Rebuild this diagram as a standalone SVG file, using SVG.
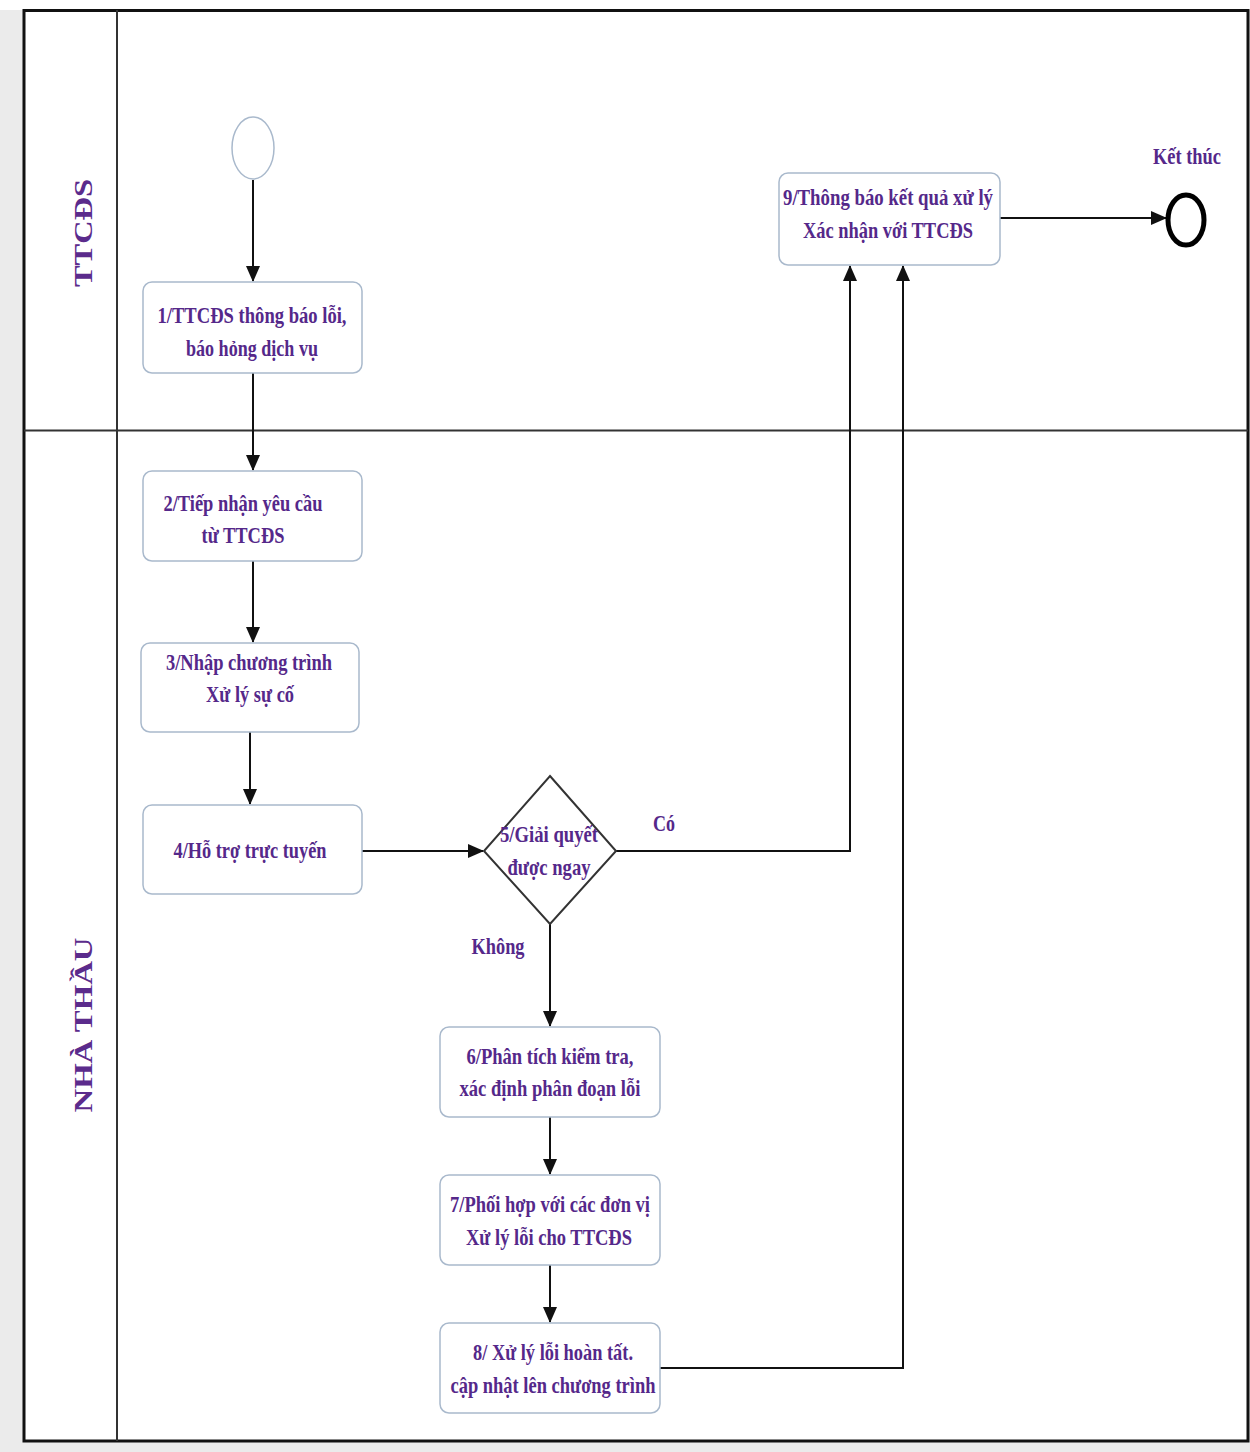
<svg xmlns="http://www.w3.org/2000/svg" width="1250" height="1452" viewBox="0 0 1250 1452">
<style>
.lbl{font-family:"Liberation Serif","Times New Roman",serif;font-weight:bold;font-size:23px;fill:#55288a;text-anchor:middle}
.lane{font-family:"Liberation Serif","Times New Roman",serif;font-weight:bold;font-size:26px;fill:#5b2b8c;text-anchor:middle}
.box{fill:#ffffff;stroke:#a9b9cc;stroke-width:1.5}
.conn{fill:none;stroke:#111111;stroke-width:2}
</style>
<defs>
<marker id="arr" markerWidth="16" markerHeight="14" refX="15" refY="7" orient="auto" markerUnits="userSpaceOnUse">
<path d="M0,0 L16,7 L0,14 Z" fill="#111111"/>
</marker>
</defs>
<rect x="0" y="0" width="1250" height="1452" fill="#ebebeb"/>
<rect x="0" y="0" width="1250" height="10" fill="#ffffff"/>
<rect x="24" y="10" width="1224" height="1431" fill="#ffffff"/>
<g id="pool">
<rect x="24" y="10.5" width="1224" height="1430.5" fill="none" stroke="#111111" stroke-width="3"/>
<line x1="117" y1="10" x2="117" y2="1441" stroke="#333333" stroke-width="2"/>
<line x1="24" y1="430.5" x2="1248" y2="430.5" stroke="#333333" stroke-width="2"/>
<text class="lane" transform="translate(92,233) rotate(-90)" textLength="108" lengthAdjust="spacingAndGlyphs">TTCĐS</text>
<text class="lane" transform="translate(92,1025) rotate(-90)" textLength="175" lengthAdjust="spacingAndGlyphs">NHÀ THẦU</text>
</g>
<g id="connectors">
<line class="conn" x1="253" y1="180" x2="253" y2="281" marker-end="url(#arr)"/>
<line class="conn" x1="253" y1="373" x2="253" y2="470" marker-end="url(#arr)"/>
<line class="conn" x1="253" y1="561" x2="253" y2="642" marker-end="url(#arr)"/>
<line class="conn" x1="250" y1="732" x2="250" y2="804" marker-end="url(#arr)"/>
<line class="conn" x1="362" y1="851" x2="483" y2="851" marker-end="url(#arr)"/>
<polyline class="conn" points="616,851 850,851 850,266" marker-end="url(#arr)"/>
<line class="conn" x1="550" y1="924" x2="550" y2="1026" marker-end="url(#arr)"/>
<line class="conn" x1="550" y1="1117" x2="550" y2="1174" marker-end="url(#arr)"/>
<line class="conn" x1="550" y1="1265" x2="550" y2="1322" marker-end="url(#arr)"/>
<polyline class="conn" points="660,1368 903,1368 903,266" marker-end="url(#arr)"/>
<line class="conn" x1="1000" y1="218" x2="1166" y2="218" marker-end="url(#arr)"/>
<text class="lbl" x="664" y="831" textLength="22" lengthAdjust="spacingAndGlyphs">Có</text>
<text class="lbl" x="498" y="954" textLength="53" lengthAdjust="spacingAndGlyphs">Không</text>
</g>
<g id="start">
<ellipse cx="253" cy="148" rx="21" ry="31" fill="#ffffff" stroke="#a9b9cc" stroke-width="1.5"/>
</g>
<g id="n1">
<rect class="box" x="143" y="282" width="219" height="91" rx="9"/>
<text class="lbl" x="252" y="323" textLength="189" lengthAdjust="spacingAndGlyphs">1/TTCĐS thông báo lỗi,</text>
<text class="lbl" x="252" y="356" textLength="132" lengthAdjust="spacingAndGlyphs">báo hỏng dịch vụ</text>
</g>
<g id="n2">
<rect class="box" x="143" y="471" width="219" height="90" rx="9"/>
<text class="lbl" x="243" y="511" textLength="159" lengthAdjust="spacingAndGlyphs">2/Tiếp nhận yêu cầu</text>
<text class="lbl" x="243" y="543" textLength="83" lengthAdjust="spacingAndGlyphs">từ TTCĐS</text>
</g>
<g id="n3">
<rect class="box" x="141" y="643" width="218" height="89" rx="9"/>
<text class="lbl" x="249" y="670" textLength="166" lengthAdjust="spacingAndGlyphs">3/Nhập chương trình</text>
<text class="lbl" x="250" y="702" textLength="88" lengthAdjust="spacingAndGlyphs">Xử lý sự cố</text>
</g>
<g id="n4">
<rect class="box" x="143" y="805" width="219" height="89" rx="9"/>
<text class="lbl" x="250" y="858" textLength="153" lengthAdjust="spacingAndGlyphs">4/Hỗ trợ trực tuyến</text>
</g>
<g id="n5">
<polygon points="550,776 616,851 550,924 484,851" fill="#ffffff" stroke="#333333" stroke-width="2"/>
<text class="lbl" x="549" y="842" textLength="98" lengthAdjust="spacingAndGlyphs">5/Giải quyết</text>
<text class="lbl" x="549" y="875" textLength="83" lengthAdjust="spacingAndGlyphs">được ngay</text>
</g>
<g id="n6">
<rect class="box" x="440" y="1027" width="220" height="90" rx="9"/>
<text class="lbl" x="550" y="1064" textLength="167" lengthAdjust="spacingAndGlyphs">6/Phân tích kiểm tra,</text>
<text class="lbl" x="550" y="1096" textLength="181" lengthAdjust="spacingAndGlyphs">xác định phân đoạn lỗi</text>
</g>
<g id="n7">
<rect class="box" x="440" y="1175" width="220" height="90" rx="9"/>
<text class="lbl" x="550" y="1212" textLength="200" lengthAdjust="spacingAndGlyphs">7/Phối hợp với các đơn vị</text>
<text class="lbl" x="549" y="1245" textLength="166" lengthAdjust="spacingAndGlyphs">Xử lý lỗi cho TTCĐS</text>
</g>
<g id="n8">
<rect class="box" x="440" y="1323" width="220" height="90" rx="9"/>
<text class="lbl" x="553" y="1360" textLength="160" lengthAdjust="spacingAndGlyphs">8/ Xử lý lỗi hoàn tất.</text>
<text class="lbl" x="553" y="1393" textLength="205" lengthAdjust="spacingAndGlyphs">cập nhật lên chương trình</text>
</g>
<g id="n9">
<rect class="box" x="779" y="173" width="221" height="92" rx="9"/>
<text class="lbl" x="888" y="205" textLength="210" lengthAdjust="spacingAndGlyphs">9/Thông báo kết quả xử lý</text>
<text class="lbl" x="888" y="238" textLength="170" lengthAdjust="spacingAndGlyphs">Xác nhận với TTCĐS</text>
</g>
<g id="end">
<ellipse cx="1186" cy="220" rx="18" ry="25" fill="#ffffff" stroke="#000000" stroke-width="5"/>
<text class="lbl" x="1187" y="164" textLength="68" lengthAdjust="spacingAndGlyphs">Kết thúc</text>
</g>
</svg>
